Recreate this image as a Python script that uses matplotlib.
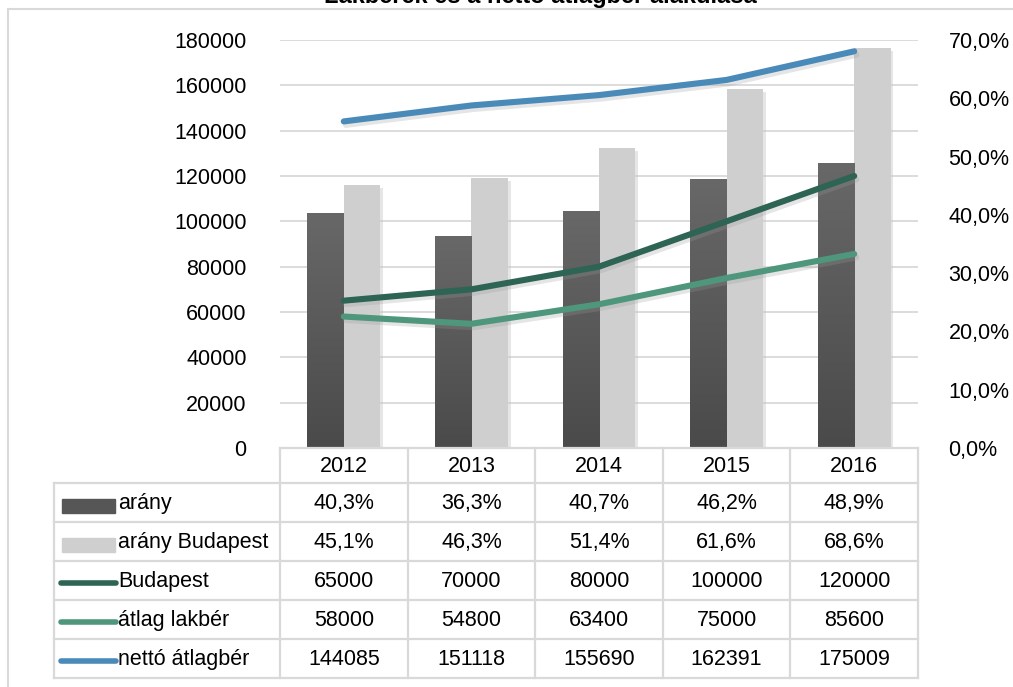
import numpy as np
import matplotlib
matplotlib.use("Agg")
import matplotlib.pyplot as plt
from matplotlib.patches import Rectangle
import matplotlib.patheffects as pe

plt.rcParams['font.family'] = ['Liberation Sans', 'DejaVu Sans']

# ── data ──────────────────────────────────────────────────────────────────────
years        = ["2012", "2013", "2014", "2015", "2016"]
arany        = [40.3, 36.3, 40.7, 46.2, 48.9]        # %
arany_bp     = [45.1, 46.3, 51.4, 61.6, 68.6]        # %
budapest     = [65000, 70000, 80000, 100000, 120000]
atlag_lakber = [58000, 54800, 63400, 75000, 85600]
netto        = [144085, 151118, 155690, 162391, 175009]

series_names = ["arány", "arány Budapest", "Budapest", "átlag lakbér", "nettó átlagbér"]

C_DARK  = "#565656"
C_LIGHT = "#d0cfd0"
C_BP    = "#2e6454"
C_LAK   = "#4e977c"
C_NET   = "#4a8ab8"
C_GRID  = "#d9d9d9"

W, H = 1013, 687
FS = 15.5
fig = plt.figure(figsize=(W / 100, H / 100), dpi=100)

def fx(px):
    return px / W

def fy(py):
    return 1 - py / H

# plot area in pixels
L, R, T, B = 280, 918, 40, 448
ax_r = fig.add_axes([fx(L), fy(B), fx(R - L), (B - T) / H])
ax_l = ax_r.twinx()
ax_l.set_zorder(ax_r.get_zorder() + 1)
ax_l.patch.set_visible(False)

x = np.arange(len(years))
bw = 0.285

# bars (secondary axis, percent)
shadow = [pe.SimplePatchShadow(offset=(2, -2), shadow_rgbFace="#c8c8c8", alpha=0.45), pe.Normal()]
b1 = ax_r.bar(x - 0.143, arany, bw, color=C_DARK, zorder=2, path_effects=shadow)
b2 = ax_r.bar(x + 0.143, arany_bp, bw, color=C_LIGHT, zorder=2, path_effects=shadow)

# gradient on dark bars
grad = np.linspace(0, 1, 256).reshape(-1, 1)
cmap = matplotlib.colors.LinearSegmentedColormap.from_list("g", ["#4a4a4a", "#686868"])
for rect in b1:
    x0, w, h = rect.get_x(), rect.get_width(), rect.get_height()
    im = ax_r.imshow(grad, extent=(x0, x0 + w, 0, h), origin="lower", cmap=cmap,
                     aspect="auto", zorder=2.5)
    im.set_clip_path(rect)

ax_r.set_xlim(-0.5, len(years) - 0.5)
ax_r.set_ylim(0, 70)
ax_r.set_yticks(np.arange(0, 71, 10))
ax_r.yaxis.tick_right()
ax_r.set_yticklabels([f"{v:.1f}%".replace(".", ",") for v in np.arange(0, 71, 10)])
ax_r.tick_params(axis="y", length=0, pad=22, labelsize=FS)
ax_r.set_xticks([])
for s in ax_r.spines.values():
    s.set_visible(False)

# lines (primary axis)
lshadow = [pe.SimpleLineShadow(offset=(1.5, -2.5), shadow_color="#999999", alpha=0.25), pe.Normal()]
for vals, col in [(netto, C_NET), (budapest, C_BP), (atlag_lakber, C_LAK)]:
    ax_l.plot(x, vals, color=col, lw=4.4, solid_capstyle="round", zorder=3, path_effects=lshadow)

ax_l.set_ylim(0, 180000)
ax_l.set_yticks(np.arange(0, 180001, 20000))
ax_l.yaxis.tick_left()
ax_l.tick_params(axis="y", length=0, pad=24, labelsize=FS)
for s in ax_l.spines.values():
    s.set_visible(False)
for v in np.arange(20000, 180001, 20000):
    ax_r.axhline(v / 180000 * 70, color=C_GRID, lw=1.3, zorder=1)

# ── data table below the chart ───────────────────────────────────────────────
ov = fig.add_axes([0, 0, 1, 1], zorder=10)
ov.set_xlim(0, W)
ov.set_ylim(H, 0)
ov.axis("off")
ov.patch.set_visible(False)

col_w = (R - L) / len(years)
row_y = [448, 483, 522, 561, 600, 639, 678]
lab_x = 54
lc = dict(color=C_GRID, lw=1.6, zorder=1)

ov.plot([L, R], [row_y[0], row_y[0]], **lc)
for yy in row_y[1:]:
    ov.plot([lab_x, R], [yy, yy], **lc)
for i in range(len(years) + 1):
    xx = L + i * col_w
    ov.plot([xx, xx], [row_y[0], row_y[-1]], **lc)
ov.plot([lab_x, lab_x], [row_y[1], row_y[-1]], **lc)

for i, yr in enumerate(years):
    ov.text(L + (i + 0.5) * col_w, (row_y[0] + row_y[1]) / 2 + 1, yr,
            ha="center", va="center", fontsize=FS)

table_rows = [
    [f"{v:.1f}%".replace(".", ",") for v in arany],
    [f"{v:.1f}%".replace(".", ",") for v in arany_bp],
    [str(v) for v in budapest],
    [str(v) for v in atlag_lakber],
    [str(v) for v in netto],
]
for r, (name, cells) in enumerate(zip(series_names, table_rows)):
    yc = (row_y[r + 1] + row_y[r + 2]) / 2
    ov.text(118, yc + 1, name, ha="left", va="center", fontsize=FS)
    for i, c in enumerate(cells):
        ov.text(L + (i + 0.5) * col_w, yc + 1, c, ha="center", va="center", fontsize=FS)

# legend keys
for r, col in enumerate([C_DARK, C_LIGHT]):
    yc = (row_y[r + 1] + row_y[r + 2]) / 2 + 3
    ov.add_patch(Rectangle((62, yc - 7), 53, 14, color=col, zorder=2))
for r, col in enumerate([C_BP, C_LAK, C_NET]):
    yc = (row_y[r + 3] + row_y[r + 4]) / 2 + 2
    ov.plot([61, 116], [yc, yc], color=col, lw=4, solid_capstyle="round", zorder=2)

# outer chart frame (left and top edges visible)
ov.plot([8, 8], [9, H + 5], color=C_GRID, lw=1.5, clip_on=False)
ov.plot([8, W + 5], [9, 9], color=C_GRID, lw=1.5, clip_on=False)

# title, cut off at the top edge in the original
ov.text(540, -3, "Lakbérek és a nettó átlagbér alakulása", ha="center", va="center",
        fontsize=17, fontweight="bold")

fig.savefig("out.png", dpi=100)
